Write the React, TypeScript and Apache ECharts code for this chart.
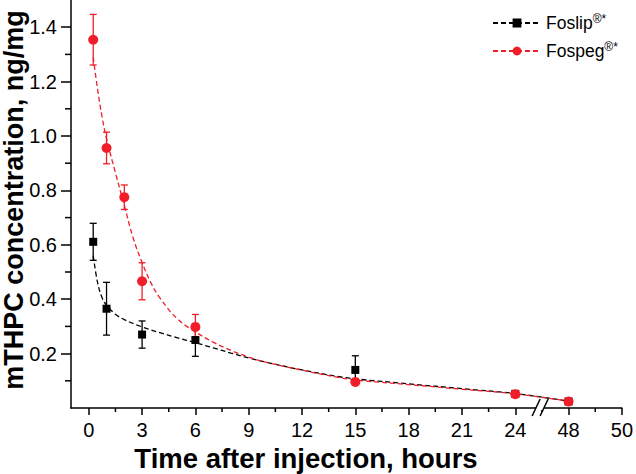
import React, { useEffect, useRef } from 'react';
import * as echarts from 'echarts';

const FONT = '"Liberation Sans", Arial, Helvetica, sans-serif';
const BLACK = '#000000';
const RED = '#F01E28';

const FOSLIP = 'Foslip®*';
const FOSPEG = 'Fospeg®*';

// Axis tick labels (hours) – the axis is broken between 24 and 48 h
const xTickHours = [0, 3, 6, 9, 12, 15, 18, 21, 24, 48, 50];
const yTicks = [0.2, 0.4, 0.6, 0.8, 1.0, 1.2, 1.4];

// Measured points (mean ± SD)
const foslipHours = [0.25, 1, 3, 6, 15, 24, 48];
const foslipMean = [0.611, 0.365, 0.27, 0.25, 0.14, 0.052, 0.024];
const foslipSD = [0.068, 0.097, 0.05, 0.06, 0.052, 0.006, 0.004];

const fospegHours = [0.25, 1, 2, 3, 6, 15, 24, 48];
const fospegMean = [1.354, 0.956, 0.775, 0.466, 0.298, 0.096, 0.051, 0.024];
const fospegSD = [0.093, 0.058, 0.045, 0.068, 0.046, 0.01, 0.008, 0.004];

// Fitted curves
const foslipFitHours = [0.25, 0.5, 0.75, 1, 1.5, 2, 3, 4, 5, 6, 7, 8, 9, 10, 12, 14, 15, 18, 21, 24, 48];
const foslipFitValues = [0.56, 0.46, 0.405, 0.378, 0.345, 0.325, 0.298, 0.277, 0.258, 0.24, 0.221, 0.202, 0.184, 0.168, 0.14, 0.116, 0.107, 0.089, 0.071, 0.053, 0.025];

const fospegFitHours = [0.25, 0.5, 0.75, 1, 1.5, 2, 2.5, 3, 3.5, 4, 5, 6, 7, 8, 9, 10, 12, 14, 15, 18, 21, 24, 48];
const fospegFitValues = [1.29, 1.17, 1.07, 0.99, 0.865, 0.745, 0.625, 0.535, 0.46, 0.405, 0.327, 0.28, 0.242, 0.212, 0.187, 0.168, 0.139, 0.113, 0.103, 0.086, 0.069, 0.052, 0.025];

// broken-axis transform: 0..24 h linear, 48..50 h drawn at 27..30
const axisPos = (h: number) => (h <= 24 ? h : 27 + (h - 48) * 1.5);
const axisPosToLabel = (p: number) => {
  const i = xTickHours.findIndex((h) => Math.abs(axisPos(h) - p) < 1e-6);
  return i >= 0 ? String(xTickHours[i]) : '';
};

const X_MIN = -1;
const X_MAX = 30;
const Y_MIN = 0;
const Y_MAX = 1.5;

const xMajor = xTickHours.map(axisPos);
const xMinor = xMajor.slice(1).map((v, i) => (v + xMajor[i]) / 2);
const yAll = [Y_MIN, ...yTicks];
const yMinor = yAll.slice(1).map((v, i) => (v + yAll[i]) / 2);

const errorSeries = (name: string, hours: number[], mean: number[], sd: number[], color: string) => ({
  name,
  type: 'custom',
  data: hours.map((h, i) => [axisPos(h), mean[i] - sd[i], mean[i] + sd[i]]),
  encode: { x: 0, y: [1, 2] },
  z: 3,
  silent: true,
  renderItem: (_params: any, api: any) => {
    const x = api.value(0);
    const top = api.coord([x, api.value(2)]);
    const bot = api.coord([x, api.value(1)]);
    const cap = 3.5;
    const style = { stroke: color, lineWidth: 1.3, fill: 'none' };
    return {
      type: 'group',
      children: [
        { type: 'line', shape: { x1: top[0], y1: top[1], x2: bot[0], y2: bot[1] }, style },
        { type: 'line', shape: { x1: top[0] - cap, y1: top[1], x2: top[0] + cap, y2: top[1] }, style },
        { type: 'line', shape: { x1: bot[0] - cap, y1: bot[1], x2: bot[0] + cap, y2: bot[1] }, style },
      ],
    };
  },
});

// minor ticks drawn through the axes' own scales
const minorTickSeries = (name: string, data: number[][], horizontal: boolean, len: number) => ({
  name,
  type: 'custom',
  data,
  encode: { x: 0, y: 1 },
  clip: false,
  silent: true,
  z: 10,
  renderItem: (_params: any, api: any) => {
    const p = api.coord([api.value(0), api.value(1)]);
    const shape = horizontal
      ? { x1: p[0], y1: p[1], x2: p[0], y2: p[1] + len }
      : { x1: p[0] - len, y1: p[1], x2: p[0], y2: p[1] };
    return { type: 'line', shape, style: { stroke: BLACK, lineWidth: 1.5 } };
  },
});

export default function App() {
  const ref = useRef<HTMLDivElement>(null);

  useEffect(() => {
    if (!ref.current) return;
    const chart = echarts.init(ref.current, undefined, { renderer: 'svg' });

    chart.setOption({
      animation: false,
      backgroundColor: '#ffffff',
      grid: { left: 71, right: 12, top: 0, bottom: 66 },
      legend: {
        data: [FOSLIP, FOSPEG],
        orient: 'vertical',
        left: 487,
        top: 8,
        itemWidth: 48,
        itemHeight: 11,
        itemGap: 9,
        formatter: (name: string) => `{a|${name.replace('®*', '')}}{s|®*}`,
        textStyle: {
          rich: {
            a: { fontSize: 17.5, fontFamily: FONT, color: '#000', lineHeight: 20 },
            s: { fontSize: 12, fontFamily: FONT, color: '#000', verticalAlign: 'top', lineHeight: 12 },
          },
        },
      },
      xAxis: {
        type: 'value',
        min: X_MIN,
        max: X_MAX,
        splitLine: { show: false },
        axisLine: { show: true, onZero: false, lineStyle: { color: BLACK, width: 1.5 } },
        axisTick: { show: true, customValues: xMajor, length: 7, lineStyle: { color: BLACK, width: 1.5 } },
        axisLabel: {
          customValues: xMajor,
          formatter: (v: number) => axisPosToLabel(v),
          fontSize: 20,
          fontFamily: FONT,
          color: '#000',
          margin: 12,
        },
      },
      yAxis: {
        type: 'value',
        min: Y_MIN,
        max: Y_MAX,
        splitLine: { show: false },
        axisLine: { show: true, onZero: false, lineStyle: { color: BLACK, width: 1.5 } },
        axisTick: { show: true, customValues: yTicks, length: 10, lineStyle: { color: BLACK, width: 1.5 } },
        axisLabel: {
          customValues: yTicks,
          formatter: (v: number) => v.toFixed(1),
          fontSize: 20,
          fontFamily: FONT,
          color: '#000',
          margin: 14,
        },
      },
      series: [
        {
          name: FOSLIP,
          type: 'line',
          smooth: 0.4,
          showSymbol: false,
          symbol: 'rect',
          data: foslipFitHours.map((h, i) => [axisPos(h), foslipFitValues[i]]),
          lineStyle: { color: BLACK, width: 1.3, type: [5, 3] },
          itemStyle: { color: BLACK },
          z: 2,
        },
        {
          name: FOSPEG,
          type: 'line',
          smooth: 0.4,
          showSymbol: false,
          symbol: 'circle',
          data: fospegFitHours.map((h, i) => [axisPos(h), fospegFitValues[i]]),
          lineStyle: { color: RED, width: 1.3, type: [5, 3] },
          itemStyle: { color: RED },
          z: 2,
        },
        errorSeries('foslip-sd', foslipHours, foslipMean, foslipSD, BLACK),
        errorSeries('fospeg-sd', fospegHours, fospegMean, fospegSD, RED),
        {
          name: 'foslip-points',
          type: 'scatter',
          symbol: 'rect',
          symbolSize: 8,
          silent: true,
          data: foslipHours.map((h, i) => [axisPos(h), foslipMean[i]]),
          itemStyle: { color: BLACK, opacity: 1 },
          z: 4,
        },
        {
          name: 'fospeg-points',
          type: 'scatter',
          symbol: 'circle',
          symbolSize: 10,
          silent: true,
          data: fospegHours.map((h, i) => [axisPos(h), fospegMean[i]]),
          itemStyle: { color: RED, opacity: 1 },
          z: 5,
        },
        minorTickSeries('x-minor-ticks', xMinor.map((v) => [v, Y_MIN]), true, 4),
        minorTickSeries('y-minor-ticks', yMinor.map((v) => [X_MIN, v]), false, 6),
      ],
    });

    // axis break marks and axis titles
    const breakPos = chart.convertToPixel({ xAxisIndex: 0 }, 25.4) as number;
    const axisY = chart.convertToPixel({ yAxisIndex: 0 }, 0) as number;
    const slash = (dx: number) => ({
      type: 'line',
      z: 100,
      shape: { x1: breakPos + dx - 4, y1: axisY + 8, x2: breakPos + dx + 4, y2: axisY - 9 },
      style: { stroke: BLACK, lineWidth: 1.5 },
    });
    chart.setOption({
      graphic: [
        {
          type: 'rect',
          z: 99,
          shape: { x: breakPos - 4, y: axisY - 2, width: 8, height: 4 },
          style: { fill: '#ffffff' },
        },
        slash(-4),
        slash(4),
        {
          type: 'text',
          x: 306,
          y: 458,
          style: {
            text: 'Time after injection, hours',
            fontSize: 27.5,
            fontWeight: 'bold',
            fontFamily: FONT,
            fill: '#000',
            align: 'center',
            verticalAlign: 'middle',
            textAlign: 'center',
            textVerticalAlign: 'middle',
          },
        },
        {
          type: 'text',
          x: 14,
          y: 200,
          rotation: Math.PI / 2,
          style: {
            text: 'mTHPC concentration, ng/mg',
            fontSize: 27,
            fontWeight: 'bold',
            fontFamily: FONT,
            lineHeight: 26,
            fill: '#000',
            align: 'center',
            verticalAlign: 'middle',
            textAlign: 'center',
            textVerticalAlign: 'middle',
          },
        },
      ],
    });

    return () => chart.dispose();
  }, []);

  return <div ref={ref} style={{ width: 636, height: 474, position: 'absolute', left: 0, top: 0 }} />;
}
